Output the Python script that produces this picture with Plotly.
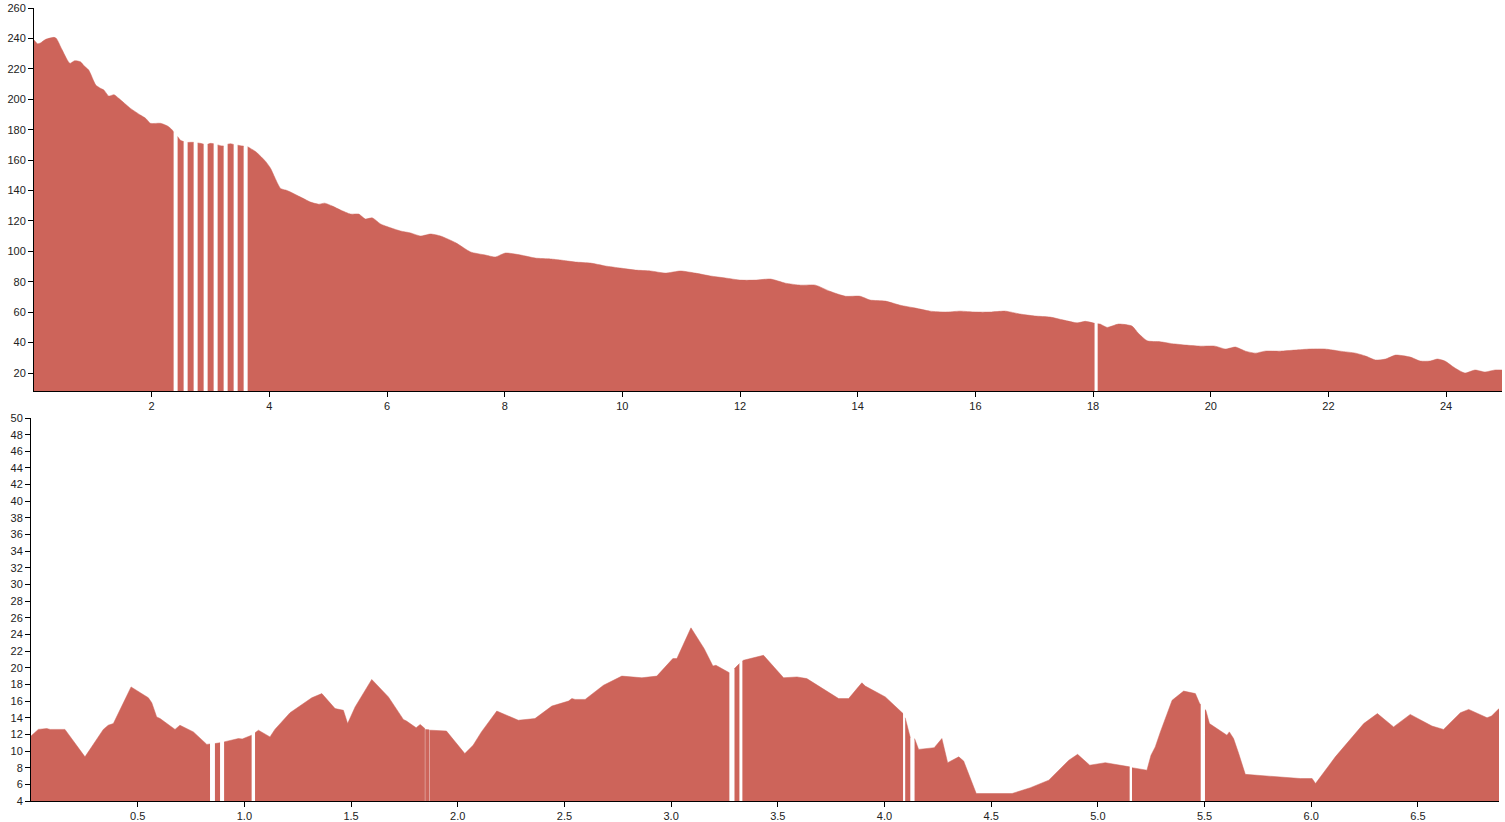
import plotly.graph_objects as go

# ---------------- top chart data ----------------
top_x = [0, 0.06, 0.11, 0.2, 0.34, 0.38, 0.48, 0.61, 0.69, 0.79, 0.85, 0.93, 1.05, 1.13, 1.19,
         1.27, 1.36, 1.44, 1.64, 1.81, 1.90, 1.98, 2.15, 2.27, 2.35, 2.373,
         2.407, 2.441, 2.49, 2.543,
         2.577, 2.611, 2.66, 2.713,
         2.747, 2.781, 2.83, 2.883,
         2.917, 2.951, 3.0, 3.053,
         3.087, 3.121, 3.17, 3.223,
         3.257, 3.291, 3.34, 3.393,
         3.427, 3.461, 3.51, 3.563,
         3.597, 3.631, 3.68, 3.77, 3.94, 4.02, 4.19, 4.28, 4.36, 4.53, 4.70, 4.84, 4.94,
         5.07, 5.21, 5.38, 5.52, 5.63, 5.75, 5.89, 6.06, 6.23, 6.4, 6.57, 6.74, 6.91, 7.17,
         7.42, 7.67, 7.84, 8.01, 8.27, 8.52, 8.78, 8.95, 9.2, 9.46, 9.71, 9.97, 10.22, 10.48,
         10.73, 10.99, 11.24, 11.5, 11.75, 12.01, 12.26, 12.52, 12.77, 13.03, 13.28, 13.53,
         13.79, 14.04, 14.21, 14.47, 14.72, 14.98, 15.23, 15.49, 15.74, 16.0, 16.25, 16.51,
         16.76, 17.01, 17.27, 17.5, 17.73, 17.87, 18.025,
         18.05, 18.078, 18.12, 18.24, 18.43, 18.66, 18.77, 18.92, 19.14, 19.31, 19.57,
         19.82, 20.07, 20.25, 20.42, 20.59, 20.76, 20.92, 21.18, 21.43, 21.69, 21.94, 22.2,
         22.46, 22.63, 22.8, 22.97, 23.14, 23.39, 23.56, 23.73, 23.85, 23.98, 24.15, 24.32,
         24.49, 24.66, 24.83, 24.95]
top_y = [239, 236.5, 237, 239.4, 240.7, 240, 232.4, 223.6, 225.3, 224.6, 222, 219.2, 209.4, 207.2, 206,
         202.1, 203, 200.6, 194, 189.6, 187.4, 184.2, 184.2, 182.4, 179.8, 178.3,
         None, 175.5, 173, 172.2,
         None, 171.6, 171.7, 171.7,
         None, 171.3, 171, 170.5,
         None, 170.4, 171, 170.8,
         None, 170, 169.5, 169.3,
         None, 170.5, 170.8, 170.3,
         None, 169.8, 169.5, 169.2,
         None, 168.8, 167.7, 165.5, 159, 154.6, 141.4, 140.3, 139, 135.7, 132.4, 131, 131.7,
         129.8, 127.2, 124.5, 124.5, 121.3, 122, 118, 115.5, 113.4, 112.1, 110.1, 111.4, 110.1, 105.6,
         99.6, 97.6, 96.3, 98.9, 97.6, 95.6, 95, 94.3, 93, 92.3, 90.4, 89, 87.7, 87.1,
         85.7, 87.1, 85.7, 83.8, 82.5, 81.1, 81.1, 81.8, 79.1, 77.8, 77.8, 73.7,
         70.5, 70.5, 68, 67.3, 64.6, 62.7, 60.7, 60.1, 60.7, 60.1, 60.1, 60.7,
         58.8, 57.5, 56.8, 54.8, 53, 54, 52.7,
         None, 52.4, 52.2, 50.0, 52.2, 50.9, 46.1, 41.2, 40.6, 39.5, 38.4,
         37.7, 37.7, 35.8, 37.1, 34.4, 33.1, 34.4, 34.4, 35.1, 35.8, 35.8, 34.4,
         33.1, 31.2, 28.6, 29.2, 31.8, 30.5, 27.9, 27.9, 29.2, 27.9, 23.3, 20,
         22, 20.7, 22, 22]

top_xticks = [2, 4, 6, 8, 10, 12, 14, 16, 18, 20, 22, 24]
top_yticks = [20, 40, 60, 80, 100, 120, 140, 160, 180, 200, 220, 240, 260]

# ---------------- bottom chart data ----------------
bot_x = [0, 0.034, 0.074, 0.09, 0.159, 0.253, 0.339, 0.362, 0.386, 0.469, 0.55, 0.566, 0.589,
         0.605, 0.675, 0.698, 0.761, 0.824, 0.839,
         0.85, 0.862, 0.886,
         0.895, 0.905, 0.972, 0.99, 1.034,
         1.042, 1.05, 1.066, 1.12, 1.143, 1.214, 1.316, 1.363, 1.425, 1.464, 1.484, 1.519,
         1.597, 1.675, 1.745, 1.76, 1.785, 1.805, 1.824, 1.846,
         1.8468, 1.8476, 1.866,
         1.8668, 1.8676, 1.876, 1.947, 2.033, 2.072, 2.111, 2.183, 2.284, 2.362, 2.441, 2.519,
         2.535, 2.55, 2.597, 2.683, 2.769, 2.863, 2.933, 3.008, 3.027, 3.093, 3.144, 3.155,
         3.196, 3.21, 3.273,
         3.285, 3.297, 3.32,
         3.327, 3.334, 3.339, 3.433, 3.527, 3.59, 3.636, 3.785, 3.832, 3.871, 3.894, 3.91,
         4.004, 4.087,
         4.092, 4.097, 4.117, 4.121,
         4.131, 4.141, 4.16, 4.233, 4.269, 4.296, 4.348, 4.371, 4.43, 4.598, 4.684, 4.77,
         4.864, 4.905, 4.962, 5.035, 5.149,
         5.155, 5.16, 5.23, 5.249, 5.269, 5.293, 5.348, 5.402, 5.457, 5.477, 5.482,
         5.492, 5.502, 5.506, 5.523, 5.59, 5.605, 5.616, 5.636, 5.66, 5.691, 5.949, 6.004,
         6.02, 6.113, 6.246, 6.31, 6.386, 6.464, 6.566, 6.62, 6.699, 6.738, 6.824, 6.845, 6.88]
bot_y = [11.8, 12.6, 12.7, 12.6, 12.6, 9.3, 12.6, 13.1, 13.3, 17.7, 16.4, 15.8, 14.1,
         13.9, 12.6, 13.1, 12.3, 10.8, 10.85,
         None, 10.9, 11.0,
         None, 11.1, 11.5, 11.45, 11.9,
         None, 12.2, 12.5, 11.7, 12.6, 14.6, 16.4, 16.9, 15.1, 14.9, 13.3, 15.3,
         18.6, 16.5, 13.8, 13.6, 13.1, 12.8, 13.2, 12.7,
         None, 12.6, 12.55,
         None, 12.5, 12.5, 12.4, 9.7, 10.7, 12.3, 14.8, 13.7, 13.9, 15.4, 16.0,
         16.3, 16.2, 16.2, 17.9, 19.0, 18.8, 19.0, 21.1, 21.1, 24.8, 22.7, 22.3,
         20.2, 20.3, 19.4,
         None, 19.9, 20.5,
         None, 20.8, 20.9, 21.5, 18.8, 18.9, 18.7, 16.3, 16.3, 17.5, 18.2, 17.8,
         16.5, 14.5,
         None, 14.0, 11.7, 11.6,
         None, 11.5, 10.2, 10.4, 11.5, 8.6, 9.3, 8.8, 4.9, 4.9, 5.6, 6.5,
         8.9, 9.6, 8.3, 8.6, 8.1,
         None, 8.0, 7.7, 9.5, 10.5, 12.3, 16.1, 17.2, 16.9, 15.7, 15.6,
         None, 15.0, 14.9, 13.3, 12.1, 11.9, 12.3, 11.5, 9.7, 7.2, 6.7, 6.7,
         6.1, 9.3, 13.3, 14.5, 12.9, 14.4, 13.0, 12.6, 14.6, 15.0, 14.0, 14.2, 15.1]

bot_xticks = [0.5, 1.0, 1.5, 2.0, 2.5, 3.0, 3.5, 4.0, 4.5, 5.0, 5.5, 6.0, 6.5]
bot_yticks = list(range(4, 51, 2))

FILL = "rgb(205,100,90)"
W, H = 1505, 822


def segments(xs, ys):
    """Split a series at its missing values into contiguous runs."""
    segs, cx, cy = [], [], []
    for x, y in zip(xs, ys):
        if y is None:
            if cx:
                segs.append((cx, cy))
            cx, cy = [], []
        else:
            cx.append(x)
            cy.append(y)
    if cx:
        segs.append((cx, cy))
    return segs


fig = go.Figure()
for sx, sy in segments(top_x, top_y):
    fig.add_trace(go.Scatter(x=sx, y=sy, mode="lines", fill="tozeroy", fillcolor=FILL,
                             line=dict(color=FILL, width=0.5, shape="spline", smoothing=0.6),
                             xaxis="x", yaxis="y", hoverinfo="skip", showlegend=False))
for sx, sy in segments(bot_x, bot_y):
    fig.add_trace(go.Scatter(x=sx, y=sy, mode="lines", fill="tozeroy", fillcolor=FILL,
                             line=dict(color=FILL, width=0.5),
                             xaxis="x2", yaxis="y2", hoverinfo="skip", showlegend=False))

font = dict(family="Liberation Sans, Arial, sans-serif", size=11, color="#222")
ax_common = dict(showgrid=False, zeroline=False, showline=True, linecolor="#000", linewidth=1,
                 ticks="outside", ticklen=5, tickcolor="#000", tickwidth=1, tickfont=font,
                 automargin=False, fixedrange=True)

top_l, top_r, top_t, top_b = 34, 1502, 8, 391
bot_l, bot_r, bot_t, bot_b = 31, 1499, 418, 801

fig.update_layout(
    width=W, height=H, margin=dict(l=0, r=0, t=0, b=0),
    paper_bgcolor="white", plot_bgcolor="white",
    xaxis=dict(domain=[top_l / W, top_r / W], range=[0, 24.95], tickvals=top_xticks,
               ticktext=[str(v) for v in top_xticks], anchor="y", **ax_common),
    yaxis=dict(domain=[(H - top_b) / H, (H - top_t) / H], range=[8.2, 260], tickvals=top_yticks,
               anchor="x", **ax_common),
    xaxis2=dict(domain=[bot_l / W, bot_r / W], range=[0, 6.88], tickvals=bot_xticks,
                ticktext=[f"{v:.1f}" for v in bot_xticks], anchor="y2", **ax_common),
    yaxis2=dict(domain=[(H - bot_b) / H, (H - bot_t) / H], range=[4, 50], tickvals=bot_yticks,
                anchor="x2", **ax_common),
)

post = ("document.body.style.margin='0';document.body.style.padding='0';"
        "document.body.style.overflow='hidden';"
        "document.documentElement.style.overflow='hidden';")
fig.write_html("out.html", post_script=post, config={"displayModeBar": False})
